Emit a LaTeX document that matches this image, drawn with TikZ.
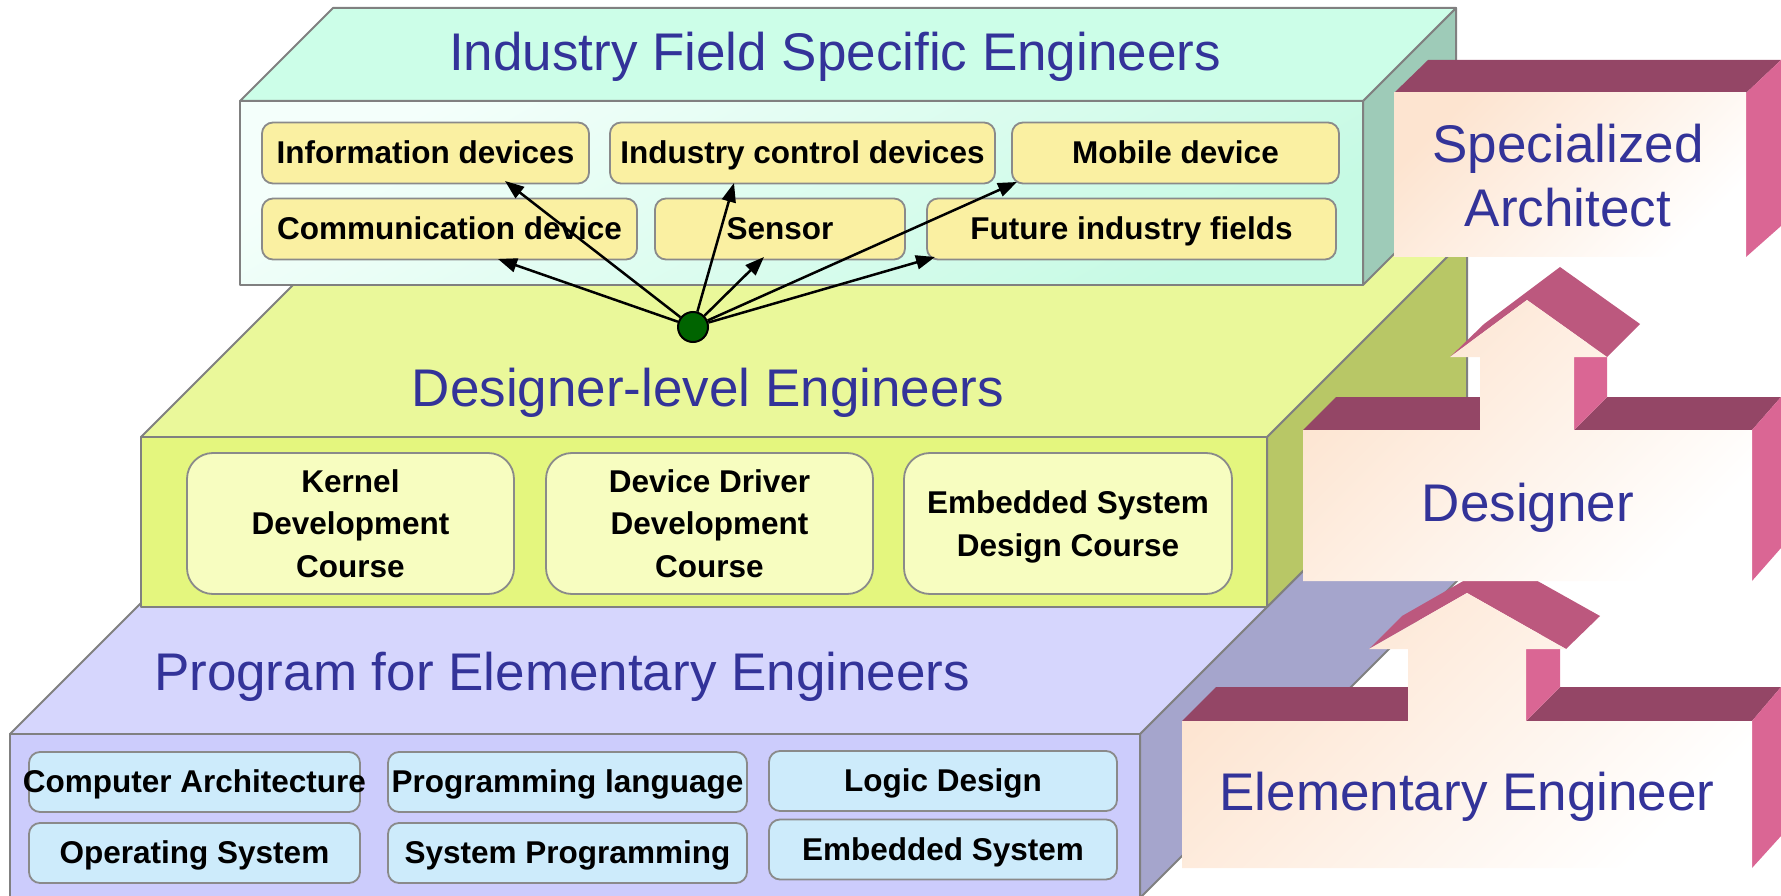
\documentclass[tikz,border=0pt]{standalone}
\usepackage{fontspec}
\setmainfont{Liberation Sans}
\usetikzlibrary{arrows.meta}

\definecolor{edgegray}{HTML}{808080}
\definecolor{titleblue}{HTML}{333399}
\definecolor{mintTop}{HTML}{CCFEE8}
\definecolor{mintFrontA}{HTML}{F4FFFB}
\definecolor{mintFrontB}{HTML}{C6FAE4}
\definecolor{mintSide}{HTML}{9ECBB8}
\definecolor{limeTop}{HTML}{EAF89A}
\definecolor{limeFront}{HTML}{E4F67E}
\definecolor{limeSide}{HTML}{B8C766}
\definecolor{lavTop}{HTML}{D6D6FD}
\definecolor{lavFront}{HTML}{CCCCFC}
\definecolor{lavSide}{HTML}{A5A5CC}
\definecolor{devFill}{HTML}{FAF0A2}
\definecolor{courseFill}{HTML}{F7FDC0}
\definecolor{baseFill}{HTML}{CDEBFB}
\definecolor{boxEdge}{HTML}{8A8A8A}
\definecolor{hubGreen}{HTML}{006400}
\definecolor{roofTop}{HTML}{944666}
\definecolor{roofSlope}{HTML}{BC587E}
\definecolor{roofSide}{HTML}{DA6694}
\definecolor{peach}{HTML}{FDE4D0}

\newcommand\myTitleFont{\fontsize{53}{64}\selectfont}
\newcommand\myLabelFont{\fontsize{31.5}{42.5}\selectfont\bfseries}
\newcommand\zw[1]{\makebox[0pt]{#1}}

\begin{document}
\begin{tikzpicture}[x=1pt,y=-1pt,
  face/.style={draw=edgegray, line width=2pt, line join=round},
  devbox/.style={draw=boxEdge, line width=1.8pt, rounded corners=11pt, fill=devFill,
    font=\myLabelFont, inner sep=0pt, minimum height=61pt, text height=24pt, text depth=3pt},
  coursebox/.style={draw=boxEdge, line width=1.8pt, rounded corners=26pt, fill=courseFill,
    font=\myLabelFont, align=center, inner sep=0pt, minimum width=327pt, minimum height=141pt},
  basebox/.style={draw=boxEdge, line width=1.8pt, rounded corners=11pt, fill=baseFill,
    font=\myLabelFont, inner sep=0pt, minimum height=60pt, text height=24pt, text depth=3pt},
  layertitle/.style={text=titleblue, font=\myTitleFont, inner sep=0pt, anchor=base},
  link/.style={line width=2.5pt, -{Triangle[length=19pt,width=14pt]}},
  hub/.style={circle, draw=black, line width=2pt, fill=hubGreen, minimum size=30pt, inner sep=0pt},
  peachface/.style={top color=peach, bottom color=white, shading angle=45},
  mintface/.style={top color=mintFrontA, bottom color=mintFrontB, shading angle=30}
]
\useasboundingbox (0,0) rectangle (1781,896);

% ---- elementary layer (bottom slab)
\filldraw[face, fill=lavSide] (1140,734) -- (1470,404) -- (1470,568) -- (1140,898) -- cycle;
\filldraw[face, fill=lavTop] (10,734) -- (1140,734) -- (1470,404) -- (340,404) -- cycle;
\filldraw[face, fill=lavFront] (10,734) rectangle (1140,900);

% ---- designer layer (middle slab)
\filldraw[face, fill=limeSide] (1267,437) -- (1467,237) -- (1467,407) -- (1267,607) -- cycle;
\filldraw[face, fill=limeTop] (141,437) -- (1267,437) -- (1467,237) -- (341,237) -- cycle;
\filldraw[face, fill=limeFront] (141,437) rectangle (1267,607);

% ---- industry layer (top slab)
\filldraw[face, fill=mintSide] (1363,101) -- (1456,8) -- (1456,192) -- (1363,285) -- cycle;
\filldraw[face, fill=mintTop] (240,101) -- (1363,101) -- (1456,8) -- (333,8) -- cycle;
\shade[mintface] (240,101) rectangle (1363,285);
\draw[face] (240,101) rectangle (1363,285);

% ---- layer titles
\node[layertitle] (t1) at (835,71) {Industry Field Specific Engineers};
\node[layertitle] (t2) at (708,406) {Designer-level Engineers};
\node[layertitle] (t3) at (562,690) {Program for Elementary Engineers};

% ---- industry fields
\node[devbox, minimum width=327pt] (info) at (425.5,153) {Information devices};
\node[devbox, minimum width=385pt] (ctrl) at (802.5,153) {Industry control devices};
\node[devbox, minimum width=327pt] (mobile) at (1175.5,153) {Mobile device};
\node[devbox, minimum width=375pt] (comm) at (449.5,229) {Communication device};
\node[devbox, minimum width=250pt] (sensor) at (780,229) {Sensor};
\node[devbox, minimum width=409pt] (future) at (1131.5,229) {Future industry fields};

% ---- designer courses
\node[coursebox] (kernel) at (350.5,523.5) {Kernel\\Development\\Course};
\node[coursebox] (driver) at (709.5,523.5) {Device Driver\\Development\\Course};
\node[coursebox, minimum width=328pt, text depth=0pt] (esd) at (1068,523.5) {Embedded System\\Design Course};

% ---- elementary subjects
\node[basebox, minimum width=331pt] (arch) at (194.5,782) {\zw{Computer Architecture}};
\node[basebox, minimum width=331pt] (os) at (194.5,853) {Operating System};
\node[basebox, minimum width=359pt] (lang) at (567.5,782) {\zw{Programming language}};
\node[basebox, minimum width=359pt] (sysprog) at (567.5,853) {System Programming};
\node[basebox, minimum width=348pt] (logic) at (943,781) {Logic Design};
\node[basebox, minimum width=348pt] (embsys) at (943,849.5) {Embedded System};

% ---- hub with links into the industry fields
\coordinate (pInfo) at (505,181);
\coordinate (pCtrl) at (734,183);
\coordinate (pMobile) at (1017,182);
\coordinate (pComm) at (498,259);
\coordinate (pSensor) at (764,257);
\coordinate (pFuture) at (935,257);
\node[hub] (hub) at (693,327) {};
\foreach \p in {pInfo,pCtrl,pMobile,pComm,pSensor,pFuture}
  \draw[link] (hub) -- (\p);

% ---- Elementary Engineer block with arrow
\fill[roofTop] (1182,721) -- (1216,687) -- (1408,687) -- (1408,721) -- cycle;
\fill[roofTop] (1526,721) -- (1560,687) -- (1781,687) -- (1752,721) -- cycle;
\fill[roofSide] (1752,721) -- (1781,687) -- (1781,836) -- (1752,868) -- cycle;
\fill[roofSide] (1526,649) -- (1560,616) -- (1560,687) -- (1526,721) -- cycle;
\fill[roofSlope] (1369,649) -- (1402,616) -- (1500,560) -- (1600,616) -- (1566,649) -- (1467,593) -- cycle;
\shade[peachface] (1182,721) -- (1408,721) -- (1408,649) -- (1369,649) -- (1467,593) -- (1566,649)
  -- (1526,649) -- (1526,721) -- (1752,721) -- (1752,868) -- (1182,868) -- cycle;

% ---- Designer block with arrow
\fill[roofTop] (1303,430) -- (1336,397) -- (1480,397) -- (1480,430) -- cycle;
\fill[roofTop] (1574,430) -- (1607,397) -- (1781,397) -- (1752,430) -- cycle;
\fill[roofSide] (1752,430) -- (1781,397) -- (1781,548) -- (1752,581) -- cycle;
\fill[roofSide] (1574,357) -- (1607,324) -- (1607,397) -- (1574,430) -- cycle;
\fill[roofSlope] (1450,357) -- (1484,324) -- (1560,267) -- (1640,324) -- (1607,357) -- (1527,300) -- cycle;
\shade[peachface] (1303,430) -- (1480,430) -- (1480,357) -- (1450,357) -- (1527,300) -- (1607,357)
  -- (1574,357) -- (1574,430) -- (1752,430) -- (1752,581) -- (1303,581) -- cycle;

% ---- Specialized Architect block
\fill[roofTop] (1394,93) -- (1428,60) -- (1781,60) -- (1746,93) -- cycle;
\fill[roofSide] (1746,93) -- (1781,60) -- (1781,226) -- (1746,257) -- cycle;
\shade[peachface] (1394,93) rectangle (1746,257);

% ---- role labels
\node[layertitle] (spec1) at (1568,163) {Specialized};
\node[layertitle] (spec2) at (1568,227) {Architect};
\node[layertitle] (des) at (1528,521) {Designer};
\node[layertitle] (elem) at (1467,810) {Elementary Engineer};
\end{tikzpicture}
\end{document}
